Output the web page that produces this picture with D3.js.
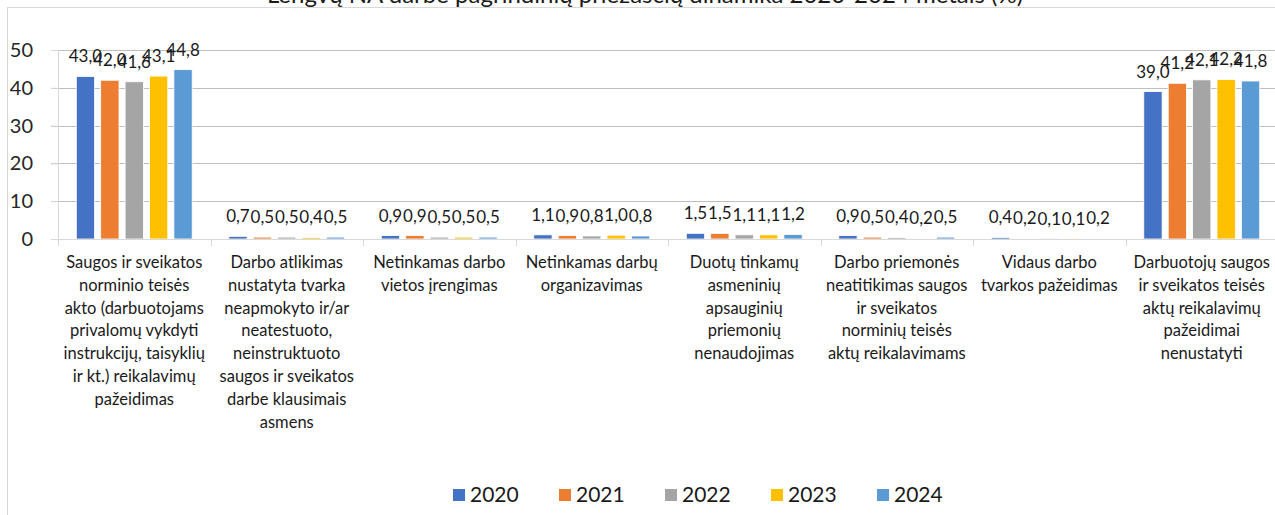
<!DOCTYPE html>
<html>
<head>
<meta charset="utf-8">
<script src="https://cdn.jsdelivr.net/npm/d3@7"></script>
<style>
  html, body { margin: 0; padding: 0; background: #fff; }
  svg { display: block; font-family: Lato, "Open Sans", sans-serif; }
</style>
</head>
<body>
<svg id="chart" width="1275" height="515"></svg>
<script>
const title = "Lengvų NA darbe pagrindinių priežasčių dinamika 2020-2024 metais (%)";
const categories = [
  ["Saugos ir sveikatos", "norminio teisės", "akto (darbuotojams", "privalomų vykdyti", "instrukcijų, taisyklių", "ir kt.) reikalavimų", "pažeidimas"],
  ["Darbo atlikimas", "nustatyta tvarka", "neapmokyto ir/ar", "neatestuoto,", "neinstruktuoto", "saugos ir sveikatos", "darbe klausimais", "asmens"],
  ["Netinkamas darbo", "vietos įrengimas"],
  ["Netinkamas darbų", "organizavimas"],
  ["Duotų tinkamų", "asmeninių", "apsauginių", "priemonių", "nenaudojimas"],
  ["Darbo priemonės", "neatitikimas saugos", "ir sveikatos", "norminių teisės", "aktų reikalavimams"],
  ["Vidaus darbo", "tvarkos pažeidimas"],
  ["Darbuotojų saugos", "ir sveikatos teisės", "aktų reikalavimų", "pažeidimai", "nenustatyti"]
];
const seriesNames = ["2020", "2021", "2022", "2023", "2024"];
const s2020 = [43.0, 0.7, 0.9, 1.1, 1.5, 0.9, 0.4, 39.0];
const s2021 = [42.0, 0.5, 0.9, 0.9, 1.5, 0.5, 0.2, 41.2];
const s2022 = [41.6, 0.5, 0.5, 0.8, 1.1, 0.4, 0.1, 42.1];
const s2023 = [43.1, 0.4, 0.5, 1.0, 1.1, 0.2, 0.1, 42.2];
const s2024 = [44.8, 0.5, 0.5, 0.8, 1.2, 0.5, 0.2, 41.8];
const yTicks = [0, 10, 20, 30, 40, 50];
const colors = ["#4472C4", "#ED7D31", "#A5A5A5", "#FFC000", "#5B9BD5"];

const seriesValues = [s2020, s2021, s2022, s2023, s2024];
const svg = d3.select("#chart");

// chart border
svg.append("rect").attr("x", 7.5).attr("y", 7.5).attr("width", 1300).attr("height", 540)
  .attr("fill", "none").attr("stroke", "#D9D9D9").attr("stroke-width", 1);

// title (partly cut off at top, as in the reference)
svg.append("text").attr("x", 645).attr("y", 3).attr("text-anchor", "middle")
  .attr("font-size", 24).attr("fill", "#1a1a1a").text(title);

const plotLeft = 58, plotRight = 58 + 8 * 152.5;
const plotTop = 50, plotBottom = 239;

const x = d3.scaleBand().domain(d3.range(categories.length)).range([plotLeft, plotRight]).paddingInner(0).paddingOuter(0);
const xi = d3.scaleBand().domain(seriesNames).range([0, x.bandwidth()]).paddingInner(0.25).paddingOuter(0.75);
const y = d3.scaleLinear().domain([0, 50]).range([plotBottom, plotTop]);

// gridlines
svg.append("g").selectAll("line").data(yTicks.filter(t => t > 0)).join("line")
  .attr("x1", plotLeft - 7).attr("x2", 1275)
  .attr("y1", d => Math.round(y(d)) + 0.5).attr("y2", d => Math.round(y(d)) + 0.5)
  .attr("stroke", "#BFBFBF").attr("stroke-width", 1);

// y axis line
svg.append("line").attr("x1", plotLeft + 0.5).attr("x2", plotLeft + 0.5)
  .attr("y1", Math.round(y(50))).attr("y2", Math.round(y(0)))
  .attr("stroke", "#D9D9D9");

// y tick labels
const yAxis = d3.axisLeft(y).tickValues(yTicks).tickSize(7).tickPadding(4);
const yg = svg.append("g").attr("transform", `translate(${plotLeft},0)`).call(yAxis);
yg.select(".domain").remove();
yg.selectAll(".tick line").attr("stroke", "#D9D9D9");
yg.selectAll(".tick text").attr("font-size", 20).attr("fill", "#262626")
  .attr("font-family", "Lato, sans-serif").attr("x", -25);

// bars
const barG = svg.append("g");
seriesValues.forEach((vals, si) => {
  barG.append("g").selectAll("rect").data(vals).join("rect")
    .attr("x", (d, ci) => x(ci) + xi(seriesNames[si]))
    .attr("y", d => y(d))
    .attr("width", xi.bandwidth())
    .attr("height", d => y(0) - y(d))
    .attr("fill", colors[si])
    .attr("stroke", "#ffffff").attr("stroke-width", 0.8);
});

// x axis line + ticks
const xAxisG = svg.append("g");
xAxisG.append("line").attr("x1", plotLeft).attr("x2", 1275)
  .attr("y1", Math.round(y(0)) + 0.5).attr("y2", Math.round(y(0)) + 0.5).attr("stroke", "#D9D9D9");
xAxisG.selectAll("line.tk").data(d3.range(categories.length + 1)).join("line").attr("class", "tk")
  .attr("x1", d => Math.round(plotLeft + d * x.bandwidth()) + 0.5)
  .attr("x2", d => Math.round(plotLeft + d * x.bandwidth()) + 0.5)
  .attr("y1", Math.round(y(0))).attr("y2", Math.round(y(0)) + 7)
  .attr("stroke", "#D9D9D9");

// data labels
const fmt = v => d3.format(".1f")(v).replace(".", ",");
seriesValues.forEach((vals, si) => {
  svg.append("g").selectAll("text").data(vals).join("text")
    .attr("x", (d, ci) => x(ci) + xi(seriesNames[si]) + xi.bandwidth() / 2)
    .attr("y", d => y(d) - 14)
    .attr("text-anchor", "middle")
    .attr("font-size", 17).attr("fill", "#1a1a1a")
    .text(d => fmt(d));
});

// category labels
const catG = svg.append("g");
categories.forEach((lines, ci) => {
  const t = catG.append("text").attr("text-anchor", "middle")
    .attr("font-size", 16.5).attr("fill", "#1a1a1a");
  lines.forEach((ln, li) => {
    t.append("tspan").attr("x", x(ci) + x.bandwidth() / 2)
      .attr("y", 268 + li * 22.8).text(ln);
  });
});

// legend
const legend = svg.append("g");
seriesNames.forEach((name, i) => {
  const lx = 453 + i * 106;
  legend.append("rect").attr("x", lx).attr("y", 489).attr("width", 12).attr("height", 12).attr("fill", colors[i]);
  legend.append("text").attr("x", lx + 17).attr("y", 502).attr("font-size", 21).attr("fill", "#1a1a1a").text(name);
});
</script>
</body>
</html>
